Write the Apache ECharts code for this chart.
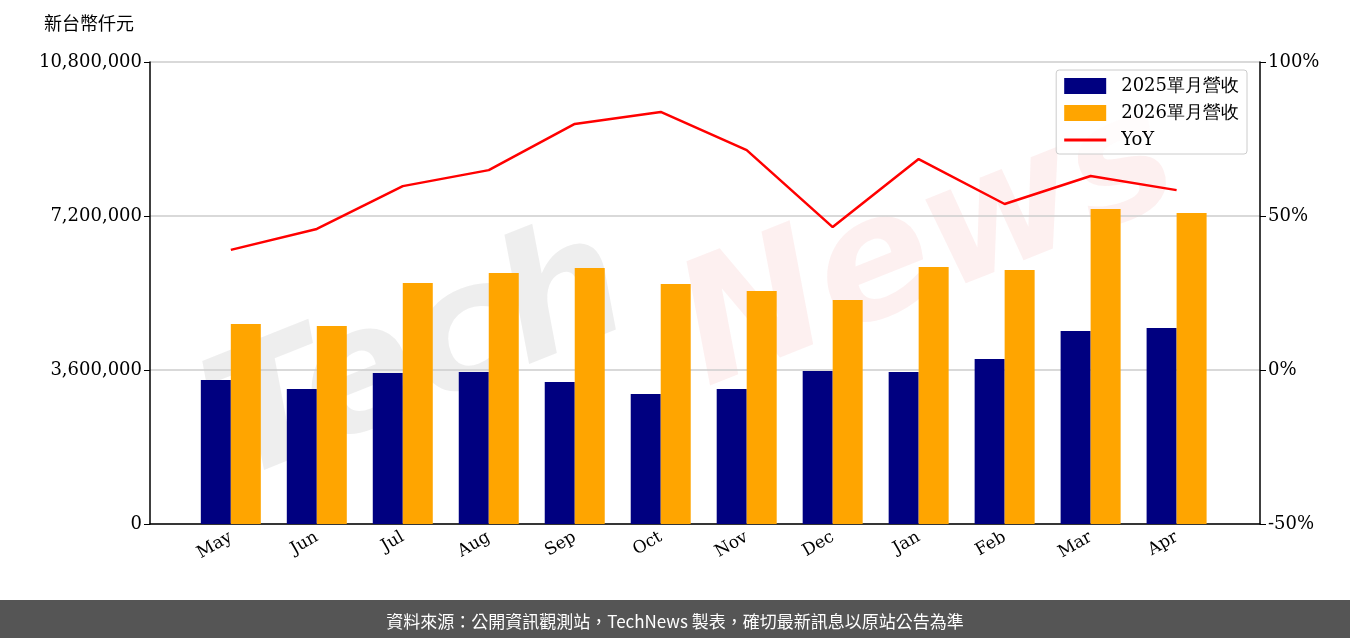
<!DOCTYPE html>
<html><head><meta charset="utf-8">
<script src="https://cdn.jsdelivr.net/npm/echarts@6/dist/echarts.min.js"></script>
<style>html,body{margin:0;padding:0;background:#fff}#c{width:1350px;height:638px}</style>
</head><body><div id="c"></div>
<script>
const months = ['May', 'Jun', 'Jul', 'Aug', 'Sep', 'Oct', 'Nov', 'Dec', 'Jan', 'Feb', 'Mar', 'Apr']
const rev2025 = [3366000, 3156000, 3530000, 3553000, 3320000, 3040000, 3156000, 3577000, 3553000, 3857000, 4512000, 4582000]
const rev2026 = [4675000, 4629000, 5634000, 5868000, 5985000, 5610000, 5447000, 5237000, 6008000, 5938000, 7364000, 7270000]
const yoy = [39, 45.8, 59.7, 64.9, 79.9, 83.8, 71.4, 46.4, 68.5, 53.9, 63, 58.4]
const serif = 'DejaVu Serif'
const cjk = 'Noto Sans CJK TC'
const idx = months.map((m, i) => i)

const chart = echarts.init(document.getElementById('c'))
chart.setOption({
    animation: false,
    grid: { left: 150, right: 90, top: 62, bottom: 114 },
    graphic: [
        { type: 'text', left: 44, top: 14, style: { text: '新台幣仟元', font: '18px "' + cjk + '"', fill: '#000' } },
        { type: 'text', x: 420, y: 360, rotation: 0.38, z: -1,
          style: { text: 'Tech', font: 'italic bold 170px "DejaVu Sans"', fill: 'rgba(150,150,150,0.16)', align: 'center', verticalAlign: 'middle' } },
        { type: 'text', x: 930, y: 250, rotation: 0.38, z: -1,
          style: { text: 'News', font: 'italic bold 170px "DejaVu Sans"', fill: 'rgba(230,90,90,0.09)', align: 'center', verticalAlign: 'middle' } },
        { type: 'rect', left: 0, bottom: 0, shape: { width: 1350, height: 38 }, style: { fill: '#555' } },
        { type: 'text', left: 'center', bottom: 8, style: { text: '資料來源：公開資訊觀測站，TechNews 製表，確切最新訊息以原站公告為準', font: '17px "' + cjk + '"', fill: '#fff' } }
    ],
    legend: {
        right: 103, top: 70, orient: 'vertical', itemGap: 9,
        borderColor: '#ccc', borderWidth: 1, borderRadius: 3, padding: [7, 8, 5, 8],
        backgroundColor: 'rgba(255,255,255,0.8)',
        itemWidth: 42, itemHeight: 16,
        textStyle: { fontFamily: serif, fontSize: 18, color: '#000', padding: [0, 0, 0, 10] },
        data: [
            { name: '2025單月營收', icon: 'rect' },
            { name: '2026單月營收', icon: 'rect' },
            { name: 'YoY', icon: 'path://M0,7 L42,7 L42,10 L0,10 Z', itemStyle: { color: 'red' } }
        ]
    },
    xAxis: {
        type: 'value', min: -0.94, max: 11.97,
        axisLine: { onZero: false, lineStyle: { color: '#000', width: 1.5 } },
        axisTick: { show: false },
        splitLine: { show: false },
        axisLabel: { customValues: idx, rotate: 30, fontFamily: serif, fontSize: 17, color: '#000', margin: 12,
                     formatter: v => months[Math.round(v)] }
    },
    yAxis: [
        { type: 'value', min: 0, max: 10800000, interval: 3600000,
          axisLine: { show: true, onZero: false, lineStyle: { color: '#000', width: 1.5 } },
          axisTick: { show: true, length: 6, lineStyle: { color: '#000' } },
          splitLine: { lineStyle: { color: '#ccc', width: 1.5 } },
          axisLabel: { fontFamily: serif, fontSize: 18, color: '#000', formatter: v => v.toLocaleString('en-US') } },
        { type: 'value', min: -50, max: 100, interval: 50,
          axisLine: { show: true, onZero: false, lineStyle: { color: '#000', width: 1.5 } },
          axisTick: { show: true, length: 6, lineStyle: { color: '#000' } },
          splitLine: { show: false },
          axisLabel: { fontFamily: serif, fontSize: 18, color: '#000', formatter: '{value}%' } }
    ],
    series: [
        { name: '2025單月營收', type: 'bar', data: rev2025.map((v, i) => [i, v]), barWidth: 30, barGap: '0%', itemStyle: { color: '#000080' } },
        { name: '2026單月營收', type: 'bar', data: rev2026.map((v, i) => [i, v]), barWidth: 30, itemStyle: { color: '#FFA500' } },
        { name: 'YoY', type: 'line', yAxisIndex: 1, data: yoy.map((v, i) => [i, v]), symbol: 'none', lineStyle: { color: 'red', width: 2.5 }, itemStyle: { color: 'red' } }
    ]
})
</script></body></html>
